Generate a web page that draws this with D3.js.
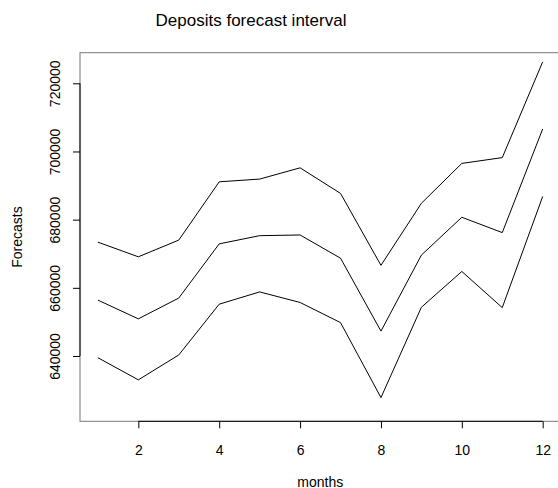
<!DOCTYPE html>
<html><head><meta charset="utf-8">
<script src="https://cdn.jsdelivr.net/npm/d3@7"></script>
<style>body{margin:0;background:#fff}svg{display:block}text{font-family:"Liberation Sans",Arial,sans-serif;fill:#000}</style>
</head><body>
<script>
const months = [1,2,3,4,5,6,7,8,9,10,11,12];
const upper = [673400,669100,674000,691100,691900,695200,687700,666600,684800,696500,698200,726300];
const forecast = [656400,650900,657000,672900,675300,675500,668700,647300,669600,680700,676200,706600];
const lower = [639500,633000,640300,655200,658800,655700,649800,627800,654300,664800,654200,686800];
const xTicks = [2,4,6,8,10,12];
const yTicks = [640000,660000,680000,700000,720000];

const W = 558, H = 488;
const svg = d3.select("body").append("svg").attr("width", W).attr("height", H);

const x = d3.scaleLinear().domain([1,12]).range([97.9,542.7]);
const y = d3.scaleLinear().domain([640000,720000]).range([356,83.3]);
const box = {l:80, r:560.5, t:52.7, b:421.3};
const fs = "14px";

// box
svg.append("rect").attr("x", box.l).attr("y", box.t).attr("width", box.r-box.l).attr("height", box.b-box.t)
  .attr("fill","none").attr("stroke","#777").attr("stroke-width",1);

// lines
const line = d3.line().x((d,i)=>x(months[i])).y(d=>y(d));
[upper, forecast, lower].forEach(s=>{
  svg.append("path").datum(s).attr("d", line).attr("fill","none").attr("stroke","#000").attr("stroke-width",1);
});

// x axis
const xa = svg.append("g").attr("transform",`translate(0,${box.b})`)
  .call(d3.axisBottom(x).tickValues(xTicks).tickSize(7).tickPadding(16.5).tickFormat(d3.format("d")));
xa.select(".domain").remove();
xa.append("line").attr("x1", x(xTicks[0])).attr("x2", x(xTicks[xTicks.length-1])).attr("stroke","#000");
xa.selectAll("text").style("font-size",fs).style("font-family","Liberation Sans, Arial, sans-serif").attr("fill","#000");
xa.selectAll(".tick line").attr("stroke","#000");

// y axis
const ya = svg.append("g").attr("transform",`translate(${box.l},0)`)
  .call(d3.axisLeft(y).tickValues(yTicks).tickSize(7).tickFormat(d3.format("d")));
ya.select(".domain").remove();
ya.append("line").attr("y1", y(yTicks[0])).attr("y2", y(yTicks[yTicks.length-1])).attr("stroke","#000");
ya.selectAll(".tick line").attr("stroke","#000");
ya.selectAll(".tick text").attr("x",null).attr("dy",null)
  .attr("transform","translate(-25,0) rotate(-90)").attr("text-anchor","middle").attr("dominant-baseline","central")
  .style("font-size",fs).style("font-family","Liberation Sans, Arial, sans-serif").attr("fill","#000");

// title & labels
svg.append("text").attr("x",251).attr("y",26).attr("text-anchor","middle").style("font-size","17px").text("Deposits forecast interval");
svg.append("text").attr("x",(box.l+box.r)/2).attr("y",487).attr("text-anchor","middle").style("font-size",fs).text("months");
svg.append("text").attr("transform",`translate(21.5,${(box.t+box.b)/2}) rotate(-90)`).attr("text-anchor","middle").style("font-size",fs).text("Forecasts");
</script>
</body></html>
